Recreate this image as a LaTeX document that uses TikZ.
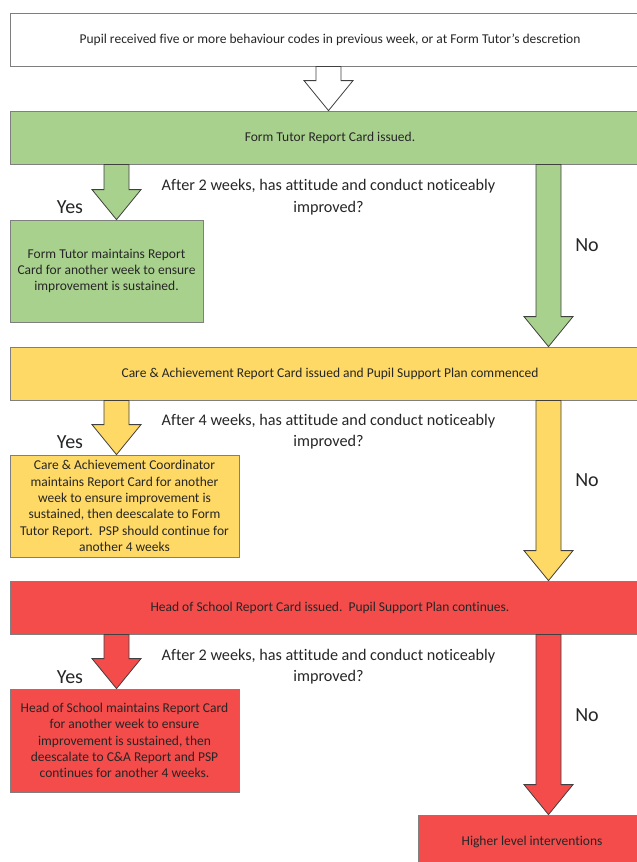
\documentclass[tikz,border=0pt]{standalone}
\usepackage{fontspec}
\setmainfont[Ligatures=NoCommon]{Carlito}
\usetikzlibrary{calc}

\definecolor{tutorgreen}{HTML}{A9D18E}
\definecolor{cagold}{HTML}{FFD966}
\definecolor{hosred}{HTML}{F44B4B}
\definecolor{boxline}{HTML}{7F7F7F}
\definecolor{inktext}{HTML}{262626}

\tikzset{
  mainbox/.style={draw=boxline, line width=0.8pt, minimum width=640pt, minimum height=53pt, inner sep=0pt,
    font=\fontsize{13.5}{16.3}\selectfont, text=inktext},
  sidebox/.style={draw=boxline, line width=0.8pt, align=center, inner sep=0pt,
    font=\fontsize{13.5}{16.3}\selectfont, text=inktext},
  question/.style={align=center, font=\fontsize{16.2}{21.5}\selectfont, text=inktext},
  answer/.style={font=\fontsize{20}{24}\selectfont, text=inktext},
  arrowline/.style={draw=black!75, line width=0.8pt, line join=miter}
}

% block arrow: fill colour, start point, tip point
\newcommand{\fatarrow}[3]{%
  \draw[arrowline, fill=#1] ($(#2)+(-12.5,0)$) -- ($(#3)+(-12.5,-30)$) -- ($(#3)+(-24.5,-30)$) -- (#3)
    -- ($(#3)+(24.5,-30)$) -- ($(#3)+(12.5,-30)$) -- ($(#2)+(12.5,0)$) -- cycle;}

\begin{document}
\begin{tikzpicture}[x=1pt, y=-1pt]
			\useasboundingbox (0,0) rectangle (637,862);
			\clip (0,0) rectangle (637,862);

			\coordinate (midx) at (328.5,0);
			\coordinate (yesx) at (116.5,0);
			\coordinate (nox) at (548.5,0);

			\node[mainbox, fill=white] at (330,39.5) (pupil) {Pupil received five or more behaviour codes in previous week, or at Form Tutor's descretion};

			\node[mainbox, fill=tutorgreen] at (330,137.5) (tutor) {Form Tutor Report Card issued.};
			\node[sidebox, fill=tutorgreen, minimum width=193pt, minimum height=102pt] at (106.5,271) (tutoryes)
				{Form Tutor maintains Report\\Card for another week to ensure\\improvement is sustained.};
			\node[question] at (328.5,197) (tutorq) {After 2 weeks, has attitude and conduct noticeably\\improved?};
			\node[answer] at (70,207) (tutoryeslbl) {Yes};
			\node[answer] at (587,245) (tutornolbl) {No};

			\node[mainbox, fill=cagold] at (330,373.5) (care) {Care \& Achievement Report Card issued and Pupil Support Plan commenced};
			\node[sidebox, fill=cagold, minimum width=229pt, minimum height=102pt] at (124.5,506) (careyes)
				{Care \& Achievement Coordinator\\maintains Report Card for another\\week to ensure improvement is\\sustained, then deescalate to Form\\Tutor Report.\ \ PSP should continue for\\another 4 weeks};
			\node[question] at (328.5,431.5) (careq) {After 4 weeks, has attitude and conduct noticeably\\improved?};
			\node[answer] at (70,442) (careyeslbl) {Yes};
			\node[answer] at (587,480) (carenolbl) {No};

			\node[mainbox, fill=hosred] at (330,607.5) (head) {Head of School Report Card issued.\ \ Pupil Support Plan continues.};
			\node[sidebox, fill=hosred, minimum width=229pt, minimum height=103pt] at (124.5,740.5) (headyes)
				{Head of School maintains Report Card\\for another week to ensure\\improvement is sustained, then\\deescalate to C\&A Report and PSP\\continues for another 4 weeks.};
			\node[question] at (328.5,666.5) (headq) {After 2 weeks, has attitude and conduct noticeably\\improved?};
			\node[answer] at (70,677) (headyeslbl) {Yes};
			\node[answer] at (587,715) (headnolbl) {No};

			\node[sidebox, fill=hosred, minimum width=228pt, minimum height=54pt] at (532,842) (higher) {Higher level interventions};

			\fatarrow{white}{pupil.south -| midx}{tutor.north -| midx}
			\fatarrow{tutorgreen}{tutor.south -| yesx}{tutoryes.north -| yesx}
			\fatarrow{tutorgreen}{tutor.south -| nox}{care.north -| nox}
			\fatarrow{cagold}{care.south -| yesx}{careyes.north -| yesx}
			\fatarrow{cagold}{care.south -| nox}{head.north -| nox}
			\fatarrow{hosred}{head.south -| yesx}{headyes.north -| yesx}
			\fatarrow{hosred}{head.south -| nox}{higher.north -| nox}
		\end{tikzpicture}
\end{document}
